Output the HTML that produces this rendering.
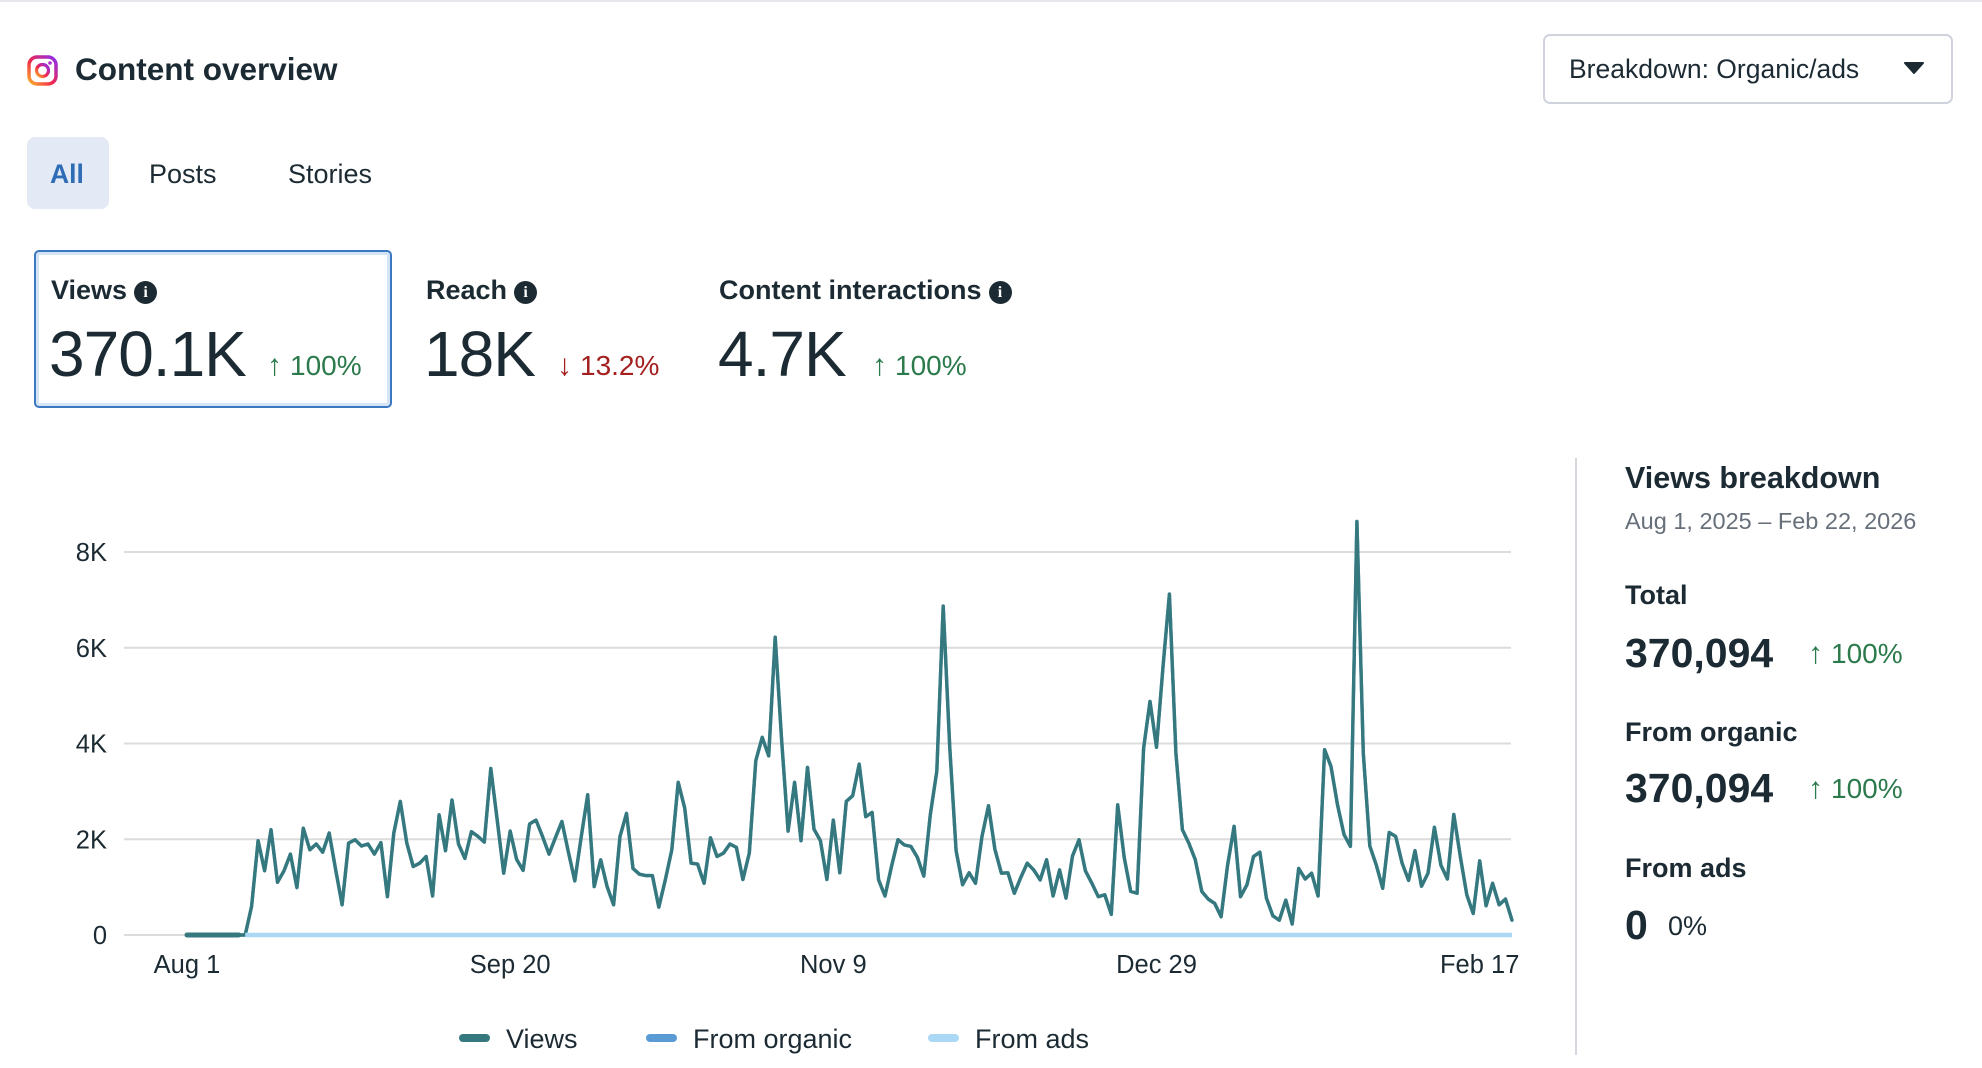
<!DOCTYPE html>
<html><head><meta charset="utf-8"><style>
html,body{margin:0;padding:0;background:#fff;}
body{width:1982px;height:1068px;position:relative;overflow:hidden;font-family:"Liberation Sans",sans-serif;color:#1c2b33;}
.abs{position:absolute;white-space:nowrap;}
.topline{position:absolute;left:0;top:0;width:1982px;height:2px;background:#e6e8ee;}
.info{display:inline-block;width:23px;height:23px;border-radius:50%;background:#1c2b33;color:#fff;font-size:16px;font-weight:bold;text-align:center;line-height:23px;vertical-align:2px;margin-left:7px;font-family:"Liberation Serif",serif;}
.lbl{font-size:27px;font-weight:bold;}
.big{font-size:64px;font-weight:normal;letter-spacing:-1px;}
.up{color:#2b7a4b;font-size:28px;}
.down{color:#a3201f;font-size:28px;}
.arr{font-size:30px;font-weight:normal;margin-right:8px;}
</style></head><body>
<div class="topline"></div>

<svg class="abs" style="left:27px;top:55px" width="31" height="31" viewBox="0 0 31 31">
<defs><linearGradient id="ig" x1="0" y1="1" x2="1" y2="0"><stop offset="0" stop-color="#fdb22b"/><stop offset="0.45" stop-color="#f0264e"/><stop offset="1" stop-color="#8b2ef0"/></linearGradient></defs>
<rect x="2" y="2" width="27" height="27" rx="8" fill="none" stroke="url(#ig)" stroke-width="3.5"/>
<circle cx="15.5" cy="15.5" r="6" fill="none" stroke="url(#ig)" stroke-width="3.2"/>
<circle cx="23" cy="8" r="1.8" fill="#b02dd0"/></svg>
<div class="abs" style="left:75px;top:51px;font-size:31.5px;font-weight:bold;">Content overview</div>

<div class="abs" style="left:1543px;top:34px;width:406px;height:66px;border:2px solid #cfd4dc;border-radius:7px;">
<span class="abs" style="left:24px;top:18px;font-size:26.5px;">Breakdown: Organic/ads</span>
<svg class="abs" style="left:359px;top:25px" width="20" height="14"><path d="M1 2 L19 2 L10 12 Z" fill="#1c2b33" stroke="#1c2b33" stroke-linejoin="round" stroke-width="2"/></svg>
</div>

<div class="abs" style="left:27px;top:137px;width:82px;height:72px;background:#e3eaf5;border-radius:8px;">
<span class="abs" style="left:23px;top:22px;font-size:26.5px;color:#2e6db5;font-weight:bold;">All</span></div>
<div class="abs" style="left:149px;top:159px;font-size:27px;">Posts</div>
<div class="abs" style="left:288px;top:159px;font-size:27px;">Stories</div>

<div class="abs" style="left:34px;top:250px;width:354px;height:154px;border:2px solid #3a78c2;border-radius:5px;box-shadow:inset 0 0 0 3px #d5e4f5;"></div>
<div class="abs lbl" style="left:51px;top:275px;">Views<span class="info">i</span></div>
<div class="abs big" style="left:49px;top:317px;">370.1K</div>
<div class="abs up" style="left:267px;top:349px;"><span class="arr">↑</span>100%</div>

<div class="abs lbl" style="left:426px;top:275px;">Reach<span class="info">i</span></div>
<div class="abs big" style="left:424px;top:317px;">18K</div>
<div class="abs down" style="left:557px;top:349px;"><span class="arr">↓</span>13.2%</div>

<div class="abs lbl" style="left:719px;top:275px;">Content interactions<span class="info">i</span></div>
<div class="abs big" style="left:718px;top:317px;">4.7K</div>
<div class="abs up" style="left:872px;top:349px;"><span class="arr">↑</span>100%</div>

<svg id="chart" class="abs" style="left:0;top:0" width="1982" height="1068"></svg>

<div class="abs" style="left:1575px;top:458px;width:2px;height:597px;background:#d3d8df;"></div>
<div class="abs" style="left:1625px;top:461px;font-size:30.5px;font-weight:bold;">Views breakdown</div>
<div class="abs" style="left:1625px;top:508px;font-size:23.5px;color:#67707a;">Aug 1, 2025 – Feb 22, 2026</div>
<div class="abs" style="left:1625px;top:580px;font-size:27px;font-weight:bold;">Total</div>
<div class="abs" style="left:1625px;top:630px;font-size:41px;font-weight:bold;">370,094</div>
<div class="abs up" style="left:1808px;top:637px;"><span class="arr">↑</span>100%</div>
<div class="abs" style="left:1625px;top:717px;font-size:27px;font-weight:bold;">From organic</div>
<div class="abs" style="left:1625px;top:765px;font-size:41px;font-weight:bold;">370,094</div>
<div class="abs up" style="left:1808px;top:772px;"><span class="arr">↑</span>100%</div>
<div class="abs" style="left:1625px;top:853px;font-size:27px;font-weight:bold;">From ads</div>
<div class="abs" style="left:1625px;top:902px;font-size:41px;font-weight:bold;">0</div>
<div class="abs" style="left:1668px;top:911px;font-size:27px;">0%</div>

<script>
const views = [0,0,0,0,0,0,0,0,0,0,
600,1970,1340,2200,1100,1340,1690,990,2230,1780,1900,1730,2130,1360,630,1920,1990,1860,1900,1690,
1930,800,2130,2790,1920,1430,1500,1640,815,2510,1760,2820,1900,1600,2160,2060,1940,3480,2400,1290,
2170,1580,1350,2320,2400,2060,1690,2030,2370,1740,1130,2060,2930,1010,1570,1010,630,2060,2540,1390,
1270,1240,1240,580,1150,1780,3190,2650,1500,1480,1080,2030,1640,1710,1900,1830,1160,1710,3640,4130,
3740,6220,4080,2170,3190,1970,3500,2210,1970,1160,2400,1300,2790,2910,3570,2470,2560,1150,815,1430,
1990,1880,1850,1620,1230,2510,3420,6870,3940,1760,1050,1300,1080,2060,2700,1790,1290,1300,870,1200,
1500,1360,1150,1570,815,1360,770,1650,1990,1340,1080,800,840,430,2720,1620,910,870,3900,4880,
3920,5600,7120,3800,2200,1920,1570,910,750,660,380,1460,2270,800,1050,1640,1730,770,400,310,
730,230,1390,1170,1290,815,3870,3520,2720,2100,1850,8640,3800,1860,1460,975,2140,2060,1500,1140,
1760,1020,1290,2250,1460,1170,2520,1640,840,450,1550,610,1080,630,750,310];
const organic = views.slice();
const ads = views.map((v,i)=> i<9 ? null : 0);
const yTicks = [0,2000,4000,6000,8000];
const yTickLabels = ["0","2K","4K","6K","8K"];
const xTickIdx = [0,50,100,150,200];
const xTickLabels = ["Aug 1","Sep 20","Nov 9","Dec 29","Feb 17"];

const NS="http://www.w3.org/2000/svg";
const svg=document.getElementById('chart');
const X0=187, X1=1512, Y0=935, Y8=552, GL=124, GR=1511;
function xs(i){return X0+(X1-X0)*i/(views.length-1);}
function ys(v){return Y0-(Y0-Y8)*v/8000;}
function mk(tag,attrs){const e=document.createElementNS(NS,tag);for(const k in attrs)e.setAttribute(k,attrs[k]);svg.appendChild(e);return e;}

yTicks.forEach((t,k)=>{
  const g=mk('line',{x1:GL,x2:GR,y1:ys(t),y2:ys(t),stroke:'#dcdcdc','stroke-width':2});
  
  
  const tx=mk('text',{x:107,y:ys(t)+9,'text-anchor':'end','font-size':25.5,fill:'#1c2b33','font-family':'Liberation Sans, sans-serif'});
  tx.textContent=yTickLabels[k];
  
  
});
xTickIdx.forEach((i,k)=>{
  const tx=mk('text',{x:xs(i),y:973,'text-anchor':'middle','font-size':25.5,fill:'#1c2b33','font-family':'Liberation Sans, sans-serif'});
  tx.textContent=xTickLabels[k];
  
  
});
function pathOf(arr){let d='',pen=false;arr.forEach((v,i)=>{if(v===null){pen=false;return;}d+=(pen?'L':'M')+xs(i).toFixed(1)+' '+ys(v).toFixed(1)+' ';pen=true;});return d;}
const po=mk('path',{d:pathOf(organic),fill:'none',stroke:'#5b9bd5','stroke-width':3.4,'stroke-linejoin':'round'});


const pv=mk('path',{d:pathOf(views),fill:'none',stroke:'#35797f','stroke-width':3.4,'stroke-linejoin':'round','stroke-linecap':'round'});


const pz=mk('path',{d:pathOf(views.map((v,i)=>i<9?v:null)),fill:'none',stroke:'#35797f','stroke-width':5,'stroke-linecap':'round'});


const pa=mk('path',{d:pathOf(ads),fill:'none',stroke:'#aad8f5','stroke-width':4.5});



const legendNames=["Views","From organic","From ads"];
const legendColors=["#35797f","#5b9bd5","#aad8f5"];
const legendX=[459,646,928];
legendNames.forEach((n,k)=>{
  const r=mk('rect',{x:legendX[k],y:1034,width:31,height:8,rx:4,fill:legendColors[k]});
  
  
  const t=mk('text',{x:legendX[k]+47,y:1048,'font-size':27,fill:'#1c2b33','font-family':'Liberation Sans, sans-serif'});
  t.textContent=n;
  
  
});
</script>
</body></html>
